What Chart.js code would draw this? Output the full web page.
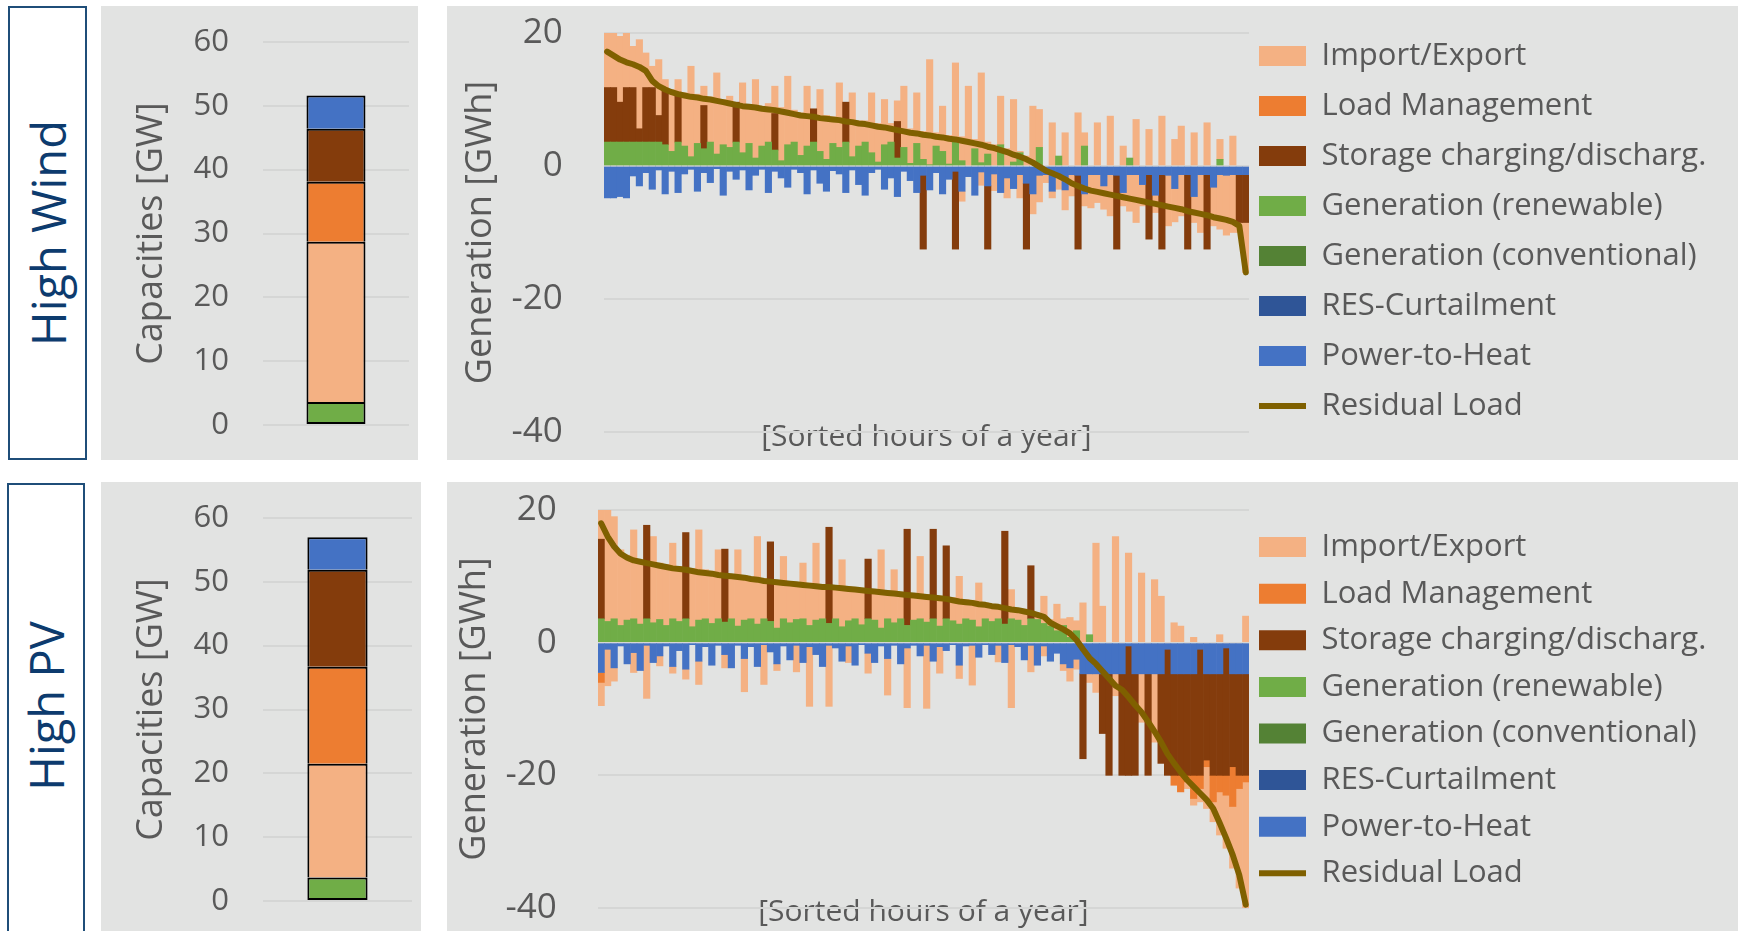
<!DOCTYPE html>
<html lang="en">
<head>
<meta charset="UTF-8">
<title>Capacities and sorted hourly generation - High Wind / High PV</title>
<script src="https://cdn.jsdelivr.net/npm/chart.js@4"></script>
<style>
  html, body { margin: 0; padding: 0; background: #fff; overflow: hidden; }
  body { width: 1738px; height: 931px; position: relative; font-family: 'Open Sans', sans-serif; }
  .label { position: absolute; box-sizing: border-box; border: 2.5px solid #1F4E79; background: #fff; }
  .label span { position: absolute; left: 50%; transform: translate(-50%, -50%) rotate(-90deg); white-space: nowrap; font-size: 47px; color: #0D3B6E; }
  .panel { position: absolute; background: #E2E3E2; }
  .panel canvas { position: absolute; left: 0; top: 0; }
</style>
</head>
<body>
  <div class="label" style="left:8px;top:6px;width:79px;height:454px"><span style="top:50%">High Wind</span></div>
  <div class="panel" style="left:101px;top:6px;width:317px;height:454px"><canvas id="capWind" width="317" height="454"></canvas></div>
  <div class="panel" style="left:447px;top:6px;width:1291px;height:454px"><canvas id="genWind" width="1291" height="454"></canvas></div>

  <div class="label" style="left:7px;top:483px;width:78px;height:470px"><span style="top:221px">High PV</span></div>
  <div class="panel" style="left:101px;top:482px;width:320px;height:449px"><canvas id="capPV" width="320" height="449"></canvas></div>
  <div class="panel" style="left:447px;top:482px;width:1291px;height:449px"><canvas id="genPV" width="1291" height="449"></canvas></div>

<script>
// ---- capacities [GW], stacked bottom to top ----
const capSeries = ['Generation (renewable)', 'Import/Export', 'Load Management', 'Storage charging/discharg.', 'Power-to-Heat'];
const capWind = [3.6, 25.1, 9.4, 8.3, 5.2];
const capPV   = [3.7, 17.8, 15.2, 15.2, 5.1];

// ---- High Wind: sorted hours of a year, 100 bins [GWh] ----
const windRes = [17.2,16.6,16.0,15.6,15.3,14.9,14.3,12.8,12.0,11.5,
  11.1,10.8,10.6,10.4,10.3,10.1,10.0,9.8,9.6,9.4,
  9.2,9.0,8.9,8.8,8.6,8.5,8.4,8.2,8.0,7.8,
  7.6,7.5,7.4,7.2,7.1,7.0,6.9,6.7,6.6,6.4,
  6.3,6.1,5.9,5.8,5.6,5.4,5.2,5.0,4.9,4.7,
  4.6,4.4,4.3,4.1,4.0,3.8,3.6,3.4,3.2,2.9,
  2.7,2.4,2.1,1.7,1.4,1.0,0.5,-0.1,-0.7,-1.1,
  -1.5,-2.0,-2.6,-3.0,-3.4,-3.7,-3.9,-4.1,-4.3,-4.5,
  -4.7,-4.9,-5.1,-5.3,-5.5,-5.7,-5.9,-6.1,-6.3,-6.5,
  -6.8,-7.0,-7.2,-7.4,-7.7,-7.9,-8.1,-8.4,-9.0,-16.0];
const windRen = [3.6,3.6,3.6,3.6,3.6,3.6,3.6,3.6,3.6,3.2,
  2.2,3.6,3.0,1.4,3.4,2.6,3.6,1.8,3.2,2.8,
  3.6,2.0,3.4,1.2,3.0,3.6,2.4,0.8,3.2,3.6,
  1.6,3.0,3.6,2.2,1.0,3.4,2.8,3.6,1.4,3.0,
  3.6,2.0,0.6,3.2,3.6,1.2,2.8,0.4,3.4,1.0,
  0.2,3.0,2.2,0.3,3.6,0.8,0,2.6,0.5,1.8,
  0,3.2,0,0.6,2.0,0,0,2.8,0,0,
  1.5,0,0,0,3.0,0,0,0,0,0,
  0,1.2,0,0,0,0,0,0,0,0,
  0,0,0,0,0,1.0,0,0,0,0];
const windStoPos = [8.2,8.2,6.0,8.2,8.2,2.0,8.2,8.2,4.0,8.2,
  0,7.5,0,0,0,6.5,0,0,0,0,
  6.0,0,0,0,0,0,5.5,0,0,0,
  0,0,5.0,0,0,0,0,6.0,0,0,
  0,0,0,0,0,5.5];
const windStoNeg = [0,0,0,0,0,0,0,0,0,0,
  0,0,0,0,0,0,0,0,0,0,
  0,0,0,0,0,0,0,0,0,0,
  0,0,0,0,0,0,0,0,0,0,
  0,0,0,0,0,0,0,0,0,-11.1,
  0,0,0,0,-11.7,0,0,0,0,-9.5,
  0,0,0,0,0,-9.9,0,0,0,0,
  0,0,0,-11.1,0,0,0,0,0,-11.1,
  0,0,0,0,-9.7,0,-11.2,0,0,0,
  -11.2,0,0,-11.2,0,0,0,0,-7.2,-7.2];
const windImpPos = [8.2,8.2,9.9,8.2,6.2,13.4,5.2,3.2,8.4,1.6,
  9.3,1.9,8.0,13.6,7.4,2.9,6.8,12.2,6.8,7.7,
  0,10.5,5.8,11.8,6.0,5.8,4.1,8.0,10.3,4.8,
  6.4,9.0,0,9.3,6.6,4.0,9.7,0,9.6,3.8,
  3.2,9.0,5.8,6.8,2.8,3.1,9.2,5.2,7.6,4.2,
  15.8,2.0,6.8,4.3,11.9,3.6,12.0,1.4,13.5,1.8,
  3.2,7.3,2.6,9.4,0.2,1.5,9.0,5.7,0,6.5,
  0,5.0,0,8.0,2.0,0,6.5,0,7.5,0,
  3.0,0,7.0,0,5.5,0,7.5,0,4.0,6.0,
  0,5.0,0,6.5,0,3.0,0,4.5,0,0];
const windImpNeg = [0,0,0,0,0,0,0,0,0,0,
  0,0,0,0,0,0,0,0,0,0,
  0,0,0,0,0,0,0,0,0,0,
  0,0,0,0,0,0,0,0,0,0,
  0,0,0,0,0,0,0,0,0,0,
  0,0,0,0,0,-1.5,0,0,-2.0,0,
  -2.5,0,-3.0,0,-3.5,0,-3.0,-4.0,-1.2,-1.0,
  -2.2,-3.0,-3.2,0,-1.8,-5.0,-4.2,-3.5,-6.2,0,
  -2.0,-5.5,-7.2,-3.2,0,-2.6,0,-7.6,-5.0,-6.2,
  0,-3.9,-8.7,0,-5.8,-8.2,-9.0,-8.7,-1.5,-7.5];
const windP2h = [-4.8,-4.8,-4.6,-4.8,-1.5,-3.0,-1.0,-3.5,-0.6,-4.2,
  -0.8,-4.0,-1.2,-0.5,-3.8,-1.0,-2.5,-0.4,-4.4,-0.8,
  -2.0,-0.6,-3.6,-1.4,-0.5,-4.0,-0.8,-1.8,-3.2,-0.5,
  -1.0,-4.2,-0.6,-2.6,-3.8,-0.7,-1.2,-4.0,-0.6,-2.8,
  -4.4,-1.0,-0.5,-3.5,-1.8,-4.6,-0.8,-2.2,-4.0,-1.4,
  -3.6,-1.0,-4.2,-2.0,-0.8,-3.8,-1.6,-4.4,-0.9,-3.0,
  -1.2,-4.0,-1.8,-3.4,-1.3,-2.6,-4.2,-1.4,-1.3,-3.8,
  -1.3,-3.6,-1.3,-1.4,-4.2,-1.3,-1.3,-3.0,-1.3,-1.4,
  -4.0,-1.3,-1.3,-2.8,-1.3,-4.4,-1.3,-1.4,-3.4,-1.3,
  -1.3,-4.6,-1.3,-1.3,-3.2,-1.3,-1.4,-1.3,-1.3,-1.3];
const windLm = [];
const windConv = [];
const windCurt = [];

// ---- High PV: sorted hours of a year, 100 bins [GWh] ----
const pvRes = [18.0,16.0,14.5,13.4,12.8,12.4,12.2,12.0,11.8,11.6,
  11.4,11.2,11.1,11.0,10.8,10.6,10.5,10.4,10.2,10.1,
  10.0,9.9,9.8,9.6,9.5,9.3,9.2,9.1,9.0,8.9,
  8.8,8.7,8.6,8.5,8.4,8.4,8.3,8.2,8.1,8.0,
  7.9,7.8,7.7,7.6,7.5,7.4,7.3,7.2,7.1,7.0,
  6.9,6.8,6.7,6.6,6.4,6.2,6.1,6.0,5.8,5.7,
  5.5,5.4,5.2,5.0,4.9,4.7,4.5,4.2,3.9,3.0,
  2.5,2.0,1.4,0.4,-1.0,-2.3,-3.2,-4.3,-5.4,-6.5,
  -7.1,-8.2,-9.4,-10.5,-11.9,-13.4,-15.0,-16.8,-18.2,-19.5,
  -20.7,-21.7,-22.7,-23.7,-25.0,-27.2,-29.5,-32.0,-35.0,-39.5];
const pvRen = [3.6,3.2,3.6,2.6,3.4,3.6,2.8,3.6,3.0,3.5,
  2.6,3.6,3.2,3.6,2.4,3.4,3.6,2.9,3.6,3.1,
  3.6,2.5,3.4,3.6,2.8,3.6,3.2,2.2,3.6,3.0,
  3.5,3.6,2.6,3.4,3.6,2.9,3.6,2.4,3.3,3.6,
  2.7,3.6,3.4,2.2,3.6,3.0,3.6,2.6,3.4,3.6,
  3.1,3.6,2.5,3.6,3.3,2.8,3.6,3.4,2.4,3.6,
  3.2,3.6,2.8,3.6,3.4,2.6,3.6,3.5,2.9,2.5,
  1.8,2.6,0.8,1.8,0,1.2];
const pvStoPos = [12,0,0,0,0,0,0,14.1,0,0,
  0,0,0,13,0,0,0,0,0,11,
  0,0,0,0,0,0,12,0,0,0,
  0,0,0,0,0,14.5,0,0,0,0,
  0,9,0,0,0,0,0,14.5,0,0,
  0,13.5,0,11,0,0,0,0,0,0,
  0,0,14,0,0,0,8];
const pvStoNeg = [0,0,0,0,0,0,0,0,0,0,
  0,0,0,0,0,0,0,0,0,0,
  0,0,0,0,0,0,0,0,0,0,
  0,0,0,0,0,0,0,0,0,0,
  0,0,0,0,0,0,0,0,0,0,
  0,0,0,0,0,0,0,0,0,0,
  0,0,0,0,0,0,0,0,0,0,
  0,0,0,0,-12.8,0,0,-9.0,-15.3,0,
  -15.3,-19.5,-15.3,0,-15.3,0,-13.5,-19.0,-15.3,-15.3,
  -15.3,-15.3,-19.0,-13.0,-15.3,-15.3,-19.2,-14.0,-15.3,-15.3];
const pvImpPos = [4.4,16.8,15.4,11.4,9.8,13.4,9.7,0,13.0,8.5,
  9.2,11.4,8.3,0,8.8,13.6,7.4,7.9,10.4,0,
  6.7,11.5,6.7,6.3,13.2,6.1,0,7.2,9.4,6.2,
  5.6,8.4,6.4,11.6,5.2,0,5.0,10.1,5.1,4.7,
  5.5,0,4.6,11.8,4.2,8.0,4.0,0,4.0,9.4,
  4.1,0,4.5,0,3.5,7.2,2.9,3.0,6.6,2.4,
  2.6,2.0,0,4.4,1.5,2.4,0,1.0,4.1,1.0,
  4.0,1.0,3.0,1.5,6.0,0,15.0,5.5,0,16.0,
  0,13.5,0,10.5,0,9.5,7.0,0,3.0,2.5,
  0,0.8,0,0,0,1.2,0,0,0,4.0];
const pvImpNeg = [-3.5,-5.5,-2.0,0,0,-3.0,0,-8.0,0,-1.5,
  0,-1.0,0,-1.5,0,-3.5,0,0,0,-2.0,
  0,0,-5.0,0,0,-6.0,0,-1.0,0,0,
  -4.0,0,-9.0,0,0,-9.2,0,0,-2.5,0,
  0,-3.0,0,0,-5.5,0,0,-9.0,0,0,
  -9.5,0,-4.0,0,0,-2.0,0,-6.0,0,0,
  0,-2.5,0,-9.5,0,0,-4.0,0,-1.5,0,
  0,-1.0,-2.0,-1.5,0,-1.3,-2.8,0,0,-3.3,
  0,0,0,-7.3,0,-10.3,0,0,0,0,
  -1.0,-1.0,-2.0,-6.3,-3.0,-6.5,-8.0,-9.3,-15.0,-19.0];
const pvP2h = [-4.5,-1.0,-3.8,-0.5,-3.2,-1.5,-4.2,-0.4,-3.0,-2.0,
  -0.5,-3.6,-1.2,-4.0,-0.3,-2.8,-0.6,-3.4,-0.4,-1.8,
  -3.8,-0.4,-2.4,-0.6,-3.6,-0.3,-1.4,-3.2,-0.5,-2.6,
  -0.4,-3.0,-0.6,-1.8,-3.6,-0.4,-0.8,-2.8,-0.5,-3.4,
  -0.3,-1.6,-3.0,-0.5,-2.4,-0.4,-3.2,-0.8,-0.4,-2.0,
  -0.4,-2.8,-0.6,-1.2,-0.3,-3.4,-0.5,-0.4,-2.2,-0.3,
  -1.8,-0.4,-3.0,-0.3,-0.6,-2.6,-0.4,-3.4,-0.5,-2.8,
  -1.6,-3.2,-3.8,-2.5,-4.7,-4.7,-4.7,-4.7,-4.7,-4.7,
  -4.7,-0.5,-4.7,-4.7,-4.7,-4.7,-4.7,-1.0,-4.7,-4.7,
  -4.7,-4.7,-1.0,-4.7,-4.7,-4.7,-0.8,-4.7,-4.7,-4.7];
const pvLm = [-1.5,0,0,0,0,0,0,0,0,0,
  0,0,0,0,0,0,0,0,0,0,
  0,0,0,0,0,0,0,0,0,0,
  0,0,0,0,0,0,0,0,0,0,
  0,0,0,0,0,0,0,0,0,0,
  0,0,0,0,0,0,0,0,0,0,
  0,0,0,0,0,0,0,0,0,0,
  0,0,0,0,0,0,0,0,0,0,
  0,0,0,0,0,0,0,0,-1.5,-2.5,
  -1.0,-3.5,-2.0,-1.0,-4.0,-2.5,-3.0,-6.0,-2.0,-1.0];
const pvConv = [];
const pvCurt = [];

const COL = {
  imp: '#F4B183', lm: '#ED7D31', sto: '#843C0C', ren: '#70AD47',
  conv: '#548235', curt: '#2F5597', p2h: '#4472C4', res: '#7F6000'
};
const capColors = [COL.ren, COL.imp, COL.lm, COL.sto, COL.p2h];
const GRID = '#D5D6D5';

Chart.defaults.font.family = "'Open Sans', sans-serif";
Chart.defaults.color = '#595959';
Chart.defaults.animation = false;

// puts the legend where the original has it (next to the plot, first row near the top)
const legendPlace = {
  id: 'legendPlace',
  beforeLayout(chart, args, o) {
    const lg = chart.legend;
    if (lg && !lg._fitPatched) {
      const fit = lg.fit;
      lg.fit = function () { fit.call(this); this.width = o.width; };
      lg._fitPatched = true;
    }
  },
  afterLayout(chart, args, o) {
    const lg = chart.legend;
    const pad = lg.options.labels.padding;
    lg.left = chart.chartArea.right + o.gap - pad;
    lg.top = o.top;
  }
};

function capChart(id, values, padBottom) {
  new Chart(document.getElementById(id), {
    type: 'bar',
    data: {
      labels: [''],
      datasets: capSeries.map((name, i) => ({
        label: name,
        data: [values[i]],
        backgroundColor: capColors[i],
        borderColor: '#000',
        borderWidth: 2,
        borderSkipped: i === 0 ? false : 'start',
        barPercentage: 0.404,
        categoryPercentage: 1
      }))
    },
    options: {
      responsive: false,
      layout: { padding: { left: 29.4, right: 9, top: 36, bottom: padBottom } },
      plugins: { legend: { display: false }, tooltip: { enabled: false } },
      scales: {
        x: { stacked: true, display: false },
        y: {
          stacked: true, min: 0, max: 60,
          ticks: { stepSize: 10, padding: 0, font: { size: 31 } },
          grid: { color: GRID, lineWidth: 2, drawTicks: true, tickLength: 34, tickColor: 'rgba(0,0,0,0)' },
          border: { display: false },
          title: { display: true, text: 'Capacities [GW]', font: { size: 36 }, padding: { top: 0, bottom: 19.9 } }
        }
      }
    }
  });
}

function bars(label, data, color, noLegend) {
  return {
    type: 'bar', label, backgroundColor: color, borderWidth: 0, pointStyle: 'rect',
    data: data.map(v => (v === 0 ? null : v)),
    stack: 'gen', categoryPercentage: 1, barPercentage: 1, noLegend: !!noLegend
  };
}

function genChart(id, s, lay) {
  const bins = s.res.map((_, i) => i + 1);
  new Chart(document.getElementById(id), {
    data: {
      labels: bins,
      datasets: [
        { type: 'line', label: 'Residual Load', data: s.res, borderColor: COL.res, backgroundColor: COL.res,
          borderWidth: 6, pointRadius: 0, tension: 0, stack: 'res', pointStyle: 'line',
          borderCapStyle: 'round', borderJoinStyle: 'round' },
        bars('Power-to-Heat', s.p2h, COL.p2h),
        bars('RES-Curtailment', s.curt, COL.curt),
        bars('Generation (conventional)', s.conv, COL.conv),
        bars('Generation (renewable)', s.ren, COL.ren),
        bars('Storage charging/discharg.', s.stoPos, COL.sto),
        bars('Storage charging/discharg.', s.stoNeg, COL.sto, true),
        bars('Load Management', s.lm, COL.lm),
        bars('Import/Export', s.impPos, COL.imp),
        bars('Import/Export', s.impNeg, COL.imp, true)
      ]
    },
    options: {
      responsive: false,
      layout: { padding: { left: lay.left, right: 0, top: lay.top, bottom: lay.bottom } },
      plugins: {
        tooltip: { enabled: false },
        legend: {
          position: 'right', align: 'start', reverse: true,
          labels: {
            usePointStyle: true, pointStyleWidth: 47, boxHeight: 20,
            padding: lay.legendPad, color: '#595959', font: { size: 31 },
            filter: (item, data) => !data.datasets[item.datasetIndex].noLegend
          }
        },
        legendPlace: { width: 489, gap: 10, top: lay.legendTop }
      },
      scales: {
        x: {
          stacked: true,
          ticks: { display: false },
          grid: { display: false, drawTicks: false },
          border: { display: false },
          title: { display: true, text: '[Sorted hours of a year]', font: { size: 30 }, padding: { top: lay.xTitleTop, bottom: 0 } }
        },
        y: {
          stacked: true, min: -40, max: 20,
          ticks: { stepSize: 20, padding: 0, font: { size: 35 } },
          grid: { color: GRID, lineWidth: 2, drawTicks: true, tickLength: 41, tickColor: 'rgba(0,0,0,0)' },
          border: { display: false },
          title: { display: true, text: 'Generation [GWh]', font: { size: 36 }, padding: { top: 0, bottom: 9 } }
        }
      }
    },
    plugins: [legendPlace]
  });
}

capChart('capWind', capWind, 35);
capChart('capPV', capPV, 30);

genChart('genWind', {
  res: windRes, ren: windRen, stoPos: windStoPos, stoNeg: windStoNeg, impPos: windImpPos,
  impNeg: windImpNeg, p2h: windP2h, lm: windLm, conv: windConv, curt: windCurt
}, { left: 12.4, top: 27, bottom: 5, legendPad: 19, legendTop: 15.5, xTitleTop: -13 });

genChart('genPV', {
  res: pvRes, ren: pvRen, stoPos: pvStoPos, stoNeg: pvStoNeg, impPos: pvImpPos,
  impNeg: pvImpNeg, p2h: pvP2h, lm: pvLm, conv: pvConv, curt: pvCurt
}, { left: 6.4, top: 28, bottom: 1, legendPad: 15.6, legendTop: 34, xTitleTop: -14 });
</script>
</body>
</html>
